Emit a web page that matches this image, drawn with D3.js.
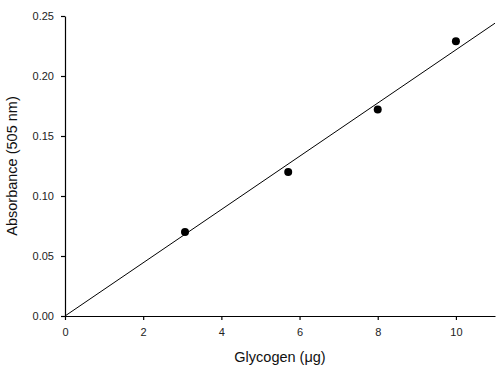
<!DOCTYPE html>
<html>
<head>
<meta charset="utf-8">
<script src="https://cdn.jsdelivr.net/npm/d3@7"></script>
<style>
  body { margin: 0; background: #fff; }
  svg { display: block; font-family: "Liberation Sans", Arial, sans-serif; }
  .axis path, .axis line { stroke: #000; stroke-width: 1.2; }
  .axis text { font-size: 11px; fill: #222; }
</style>
</head>
<body>
<div id="chart"></div>
<script>
// measured points
const glycogen = [3.07, 5.71, 8.0, 10.0];
const absorbance = [0.070, 0.120, 0.172, 0.229];
// fitted line end points
const fitX = [0, 11];
const fitY = [0, 0.244];
const xTicks = [0, 2, 4, 6, 8, 10];
const yTicks = [0, 0.05, 0.10, 0.15, 0.20, 0.25];

const width = 500, height = 380;
const margin = { top: 16, right: 5, bottom: 64, left: 65 };

const svg = d3.select("#chart")
  .append("svg")
  .attr("width", width)
  .attr("height", height);

const x = d3.scaleLinear()
  .domain([0, 11])
  .range([margin.left, width - margin.right]);

const y = d3.scaleLinear()
  .domain([0, 0.25])
  .range([height - margin.bottom, margin.top]);

svg.append("g")
  .attr("class", "axis")
  .attr("transform", `translate(0,${height - margin.bottom})`)
  .call(d3.axisBottom(x).tickValues(xTicks).tickSize(4).tickSizeOuter(0).tickPadding(8).tickFormat(d3.format("d")));

svg.append("g")
  .attr("class", "axis")
  .attr("transform", `translate(${margin.left},0)`)
  .call(d3.axisLeft(y).tickValues(yTicks).tickSize(4).tickSizeOuter(0).tickPadding(7).tickFormat(d3.format(".2f")));

// regression line
const line = d3.line()
  .x(d => x(d[0]))
  .y(d => y(d[1]));

svg.append("path")
  .datum(fitX.map((v, i) => [v, fitY[i]]))
  .attr("d", line)
  .attr("fill", "none")
  .attr("stroke", "#000")
  .attr("stroke-width", 1);

svg.selectAll("circle")
  .data(glycogen)
  .join("circle")
  .attr("cx", d => x(d))
  .attr("cy", (d, i) => y(absorbance[i]))
  .attr("r", 4)
  .attr("fill", "#000");

// axis titles
svg.append("text")
  .attr("x", (margin.left + width - margin.right) / 2)
  .attr("y", 362)
  .attr("text-anchor", "middle")
  .style("font-size", "14.5px")
  .style("fill", "#111")
  .text("Glycogen (\u03bcg)");

svg.append("text")
  .attr("transform", `translate(17,${(margin.top + height - margin.bottom) / 2}) rotate(-90)`)
  .attr("text-anchor", "middle")
  .style("font-size", "14.5px")
  .style("fill", "#111")
  .text("Absorbance (505 nm)");
</script>
</body>
</html>
